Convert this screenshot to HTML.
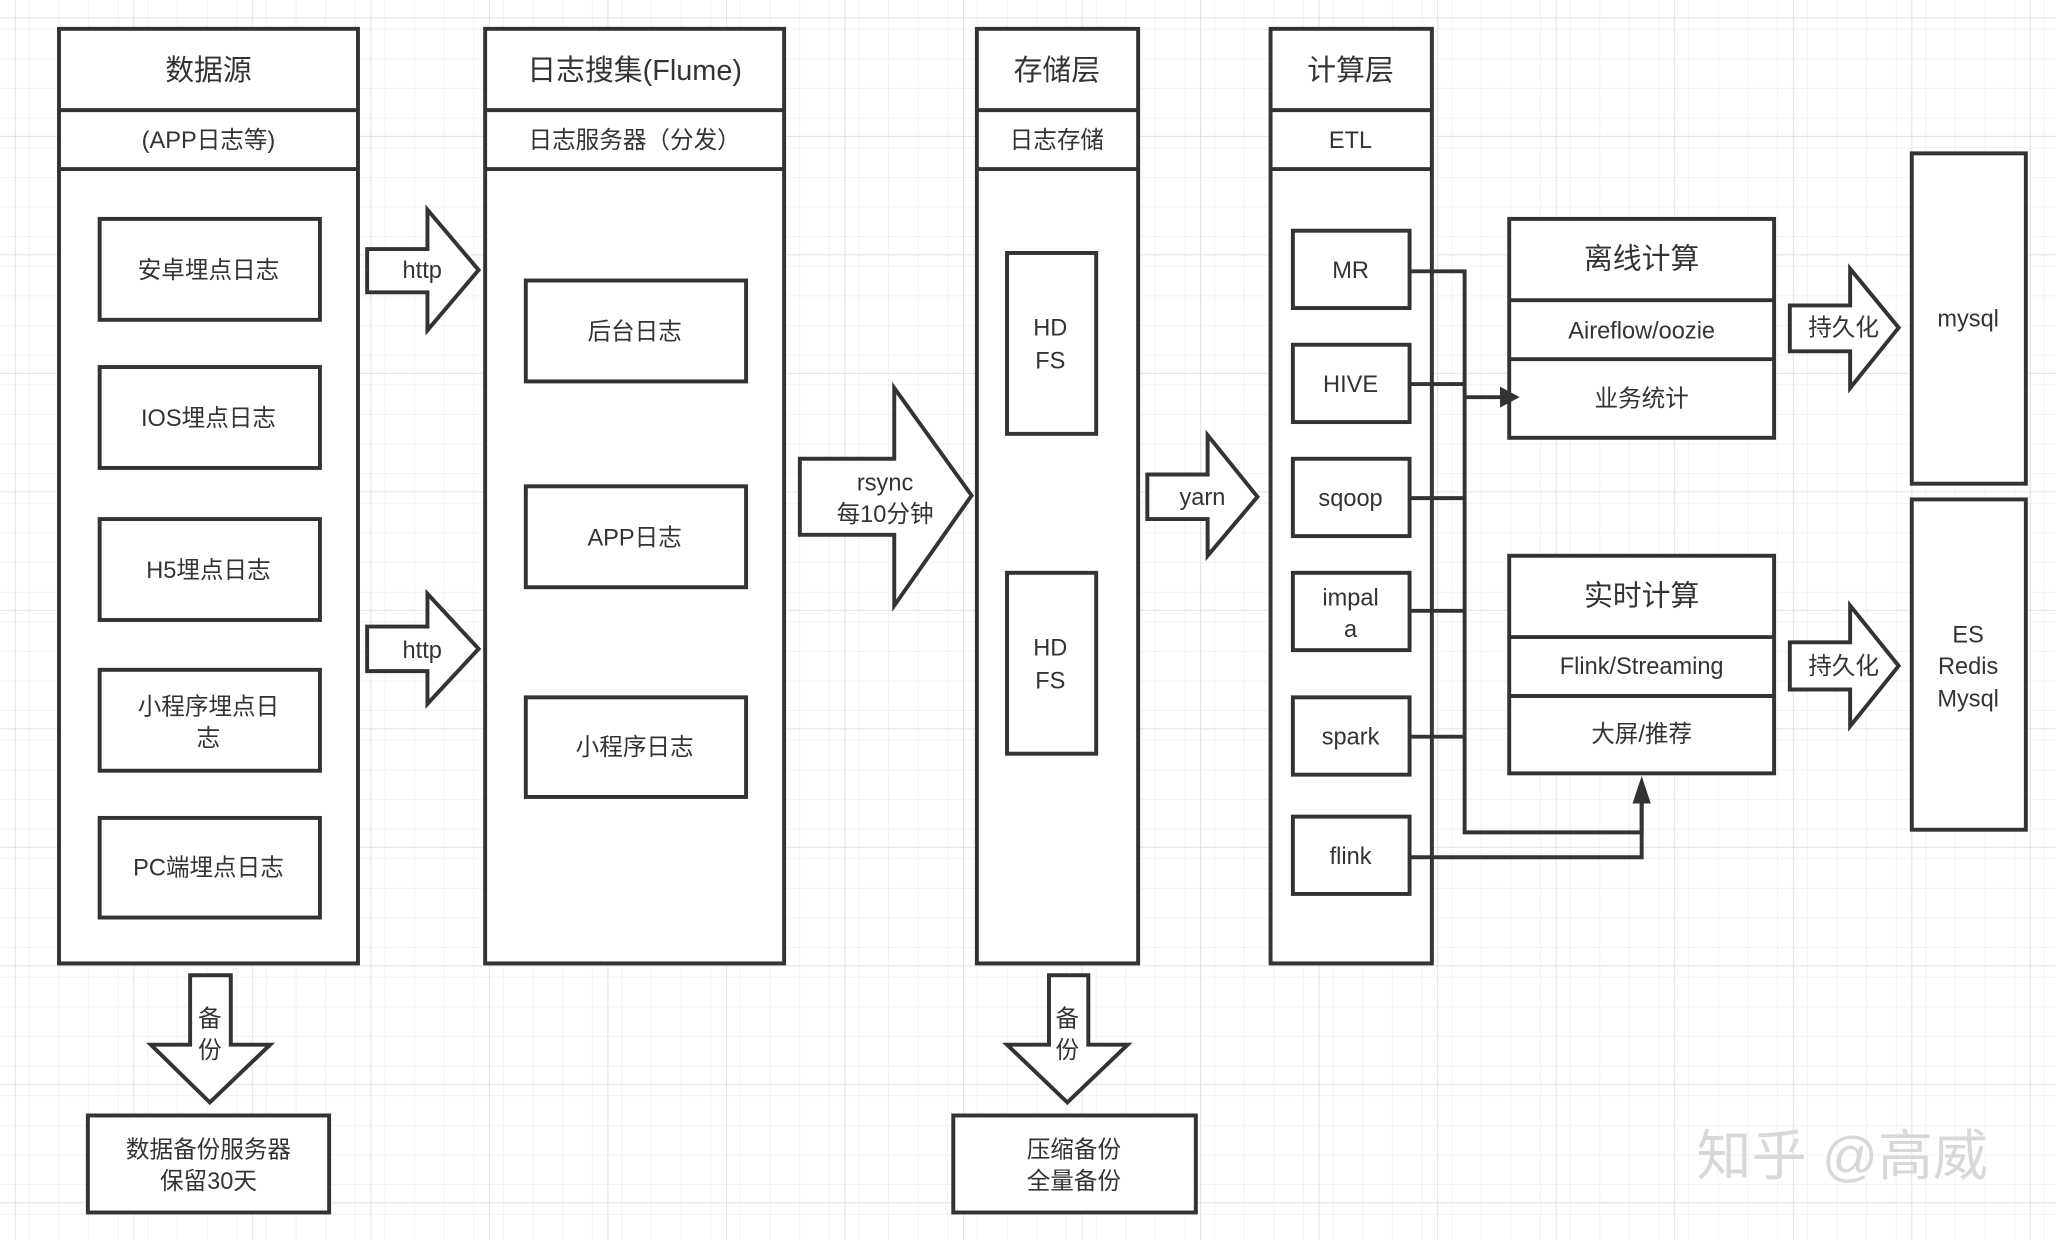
<!DOCTYPE html>
<html><head><meta charset="utf-8"><style>
html,body{margin:0;padding:0;background:#fff;}
svg{display:block;}
text{font-family:"Liberation Sans","Noto Sans CJK SC",sans-serif;fill:#333;text-anchor:middle;dominant-baseline:central;}
</style></head><body>
<svg width="2056" height="1240" viewBox="0 0 1568 946" preserveAspectRatio="none" xmlns="http://www.w3.org/2000/svg">
<defs>
<pattern id="g" width="22.6" height="22.6" patternUnits="userSpaceOnUse"><path d="M22.6 0V22.6M0 22.6H22.6" stroke="#ececec" stroke-width="1" fill="none"/></pattern>
<pattern id="G" width="90.4" height="90.4" patternUnits="userSpaceOnUse" x="12" y="14"><path d="M90.4 0V90.4M0 90.4H90.4" stroke="#e2e2e2" stroke-width="1.5" fill="none"/></pattern>
</defs>
<rect width="1568" height="946" fill="#fff"/>
<rect width="1568" height="946" fill="url(#g)"/>
<rect width="1568" height="946" fill="url(#G)"/>
<g stroke="#333" stroke-width="3" fill="#fff">
<!-- col1 -->
<rect x="45" y="22" width="228" height="713"/><line x1="45" y1="84" x2="273" y2="84"/><line x1="45" y1="129" x2="273" y2="129"/>
<rect x="76" y="167" width="168" height="77"/><rect x="76" y="280" width="168" height="77"/><rect x="76" y="396" width="168" height="77"/><rect x="76" y="511" width="168" height="77"/><rect x="76" y="624" width="168" height="76"/>
<!-- col2 -->
<rect x="370" y="22" width="228" height="713"/><line x1="370" y1="84" x2="598" y2="84"/><line x1="370" y1="129" x2="598" y2="129"/>
<rect x="401" y="214" width="168" height="77"/><rect x="401" y="371" width="168" height="77"/><rect x="401" y="532" width="168" height="76"/>
<!-- col3 -->
<rect x="745" y="22" width="123" height="713"/><line x1="745" y1="84" x2="868" y2="84"/><line x1="745" y1="129" x2="868" y2="129"/>
<rect x="768" y="193" width="68" height="138"/><rect x="768" y="437" width="68" height="138"/>
<!-- col4 -->
<rect x="969" y="22" width="123" height="713"/><line x1="969" y1="84" x2="1092" y2="84"/><line x1="969" y1="129" x2="1092" y2="129"/>
<rect x="986" y="176" width="89" height="59"/><rect x="986" y="263" width="89" height="59"/><rect x="986" y="350" width="89" height="59"/><rect x="986" y="437" width="89" height="59"/><rect x="986" y="532" width="89" height="59"/><rect x="986" y="623" width="89" height="59"/>
<!-- offline / realtime -->
<rect x="1151" y="167" width="202" height="167"/><line x1="1151" y1="229" x2="1353" y2="229"/><line x1="1151" y1="274" x2="1353" y2="274"/>
<rect x="1151" y="424" width="202" height="166"/><line x1="1151" y1="486" x2="1353" y2="486"/><line x1="1151" y1="531" x2="1353" y2="531"/>
<rect x="1458" y="117" width="87" height="252"/><rect x="1458" y="381" width="87" height="252"/>
<!-- bottom boxes -->
<rect x="67" y="851" width="184" height="74"/><rect x="727" y="851" width="185" height="74"/>
<!-- block arrows -->
<polygon points="280,190 326,190 326,160 365,206 326,252 326,223 280,223"/>
<polygon points="280,478 326,478 326,453 365,495 326,537 326,512 280,512"/>
<polygon points="610,350 682,350 682,296 741,378 682,462 682,408 610,408"/>
<polygon points="875,362 921,362 921,332 959,379 921,424 921,396 875,396"/>
<polygon points="1365,233 1411,233 1411,205 1448,250 1411,296 1411,268 1365,268"/>
<polygon points="1365,490 1411,490 1411,462 1448,508 1411,554 1411,526 1365,526"/>
<polygon points="145,744 176,744 176,797 206,797 160,841 115,797 145,797"/>
<polygon points="800,744 830,744 830,797 860,797 814,841 768,797 800,797"/>
</g>
<!-- connectors -->
<g stroke="#333" stroke-width="3" fill="none">
<polyline points="1075,207 1117,207 1117,635 1252,635 1252,605"/>
<line x1="1075" y1="293" x2="1117" y2="293"/><line x1="1075" y1="380" x2="1117" y2="380"/><line x1="1075" y1="466" x2="1117" y2="466"/><line x1="1075" y1="562" x2="1117" y2="562"/>
<polyline points="1075,654 1252,654 1252,605"/>
<line x1="1117" y1="303" x2="1145" y2="303"/>
</g>
<polygon points="1144,295 1159,303 1144,311" fill="#333"/>
<polygon points="1245,613 1252,592 1259,613" fill="#333"/>
<!-- text -->
<g font-size="22">
<text x="159" y="54">数据源</text><text x="484" y="54">日志搜集(Flume)</text><text x="806" y="54">存储层</text><text x="1030" y="54">计算层</text>
<text x="1252" y="198">离线计算</text><text x="1252" y="455">实时计算</text>
</g>
<g font-size="18">
<text x="159" y="107">(APP日志等)</text><text x="484" y="107">日志服务器（分发）</text><text x="806" y="107">日志存储</text><text x="1030" y="107">ETL</text>
<text x="159" y="206">安卓埋点日志</text><text x="159" y="319">IOS埋点日志</text><text x="159" y="435">H5埋点日志</text>
<text x="159" y="539">小程序埋点日</text><text x="159" y="563">志</text><text x="159" y="662">PC端埋点日志</text>
<text x="484" y="253">后台日志</text><text x="484" y="410">APP日志</text><text x="484" y="570">小程序日志</text>
<text x="801" y="250">HD</text><text x="801" y="275">FS</text><text x="801" y="494">HD</text><text x="801" y="519">FS</text>
<text x="1030" y="206">MR</text><text x="1030" y="293">HIVE</text><text x="1030" y="380">sqoop</text><text x="1030" y="456">impal</text><text x="1030" y="480">a</text><text x="1030" y="562">spark</text><text x="1030" y="653">flink</text>
<text x="1252" y="252">Aireflow/oozie</text><text x="1252" y="304">业务统计</text>
<text x="1252" y="508">Flink/Streaming</text><text x="1252" y="560">大屏/推荐</text>
<text x="1501" y="243">mysql</text><text x="1501" y="484">ES</text><text x="1501" y="508">Redis</text><text x="1501" y="533">Mysql</text>
<text x="322" y="206">http</text><text x="322" y="496">http</text>
<text x="675" y="368">rsync</text><text x="675" y="392">每10分钟</text>
<text x="917" y="379">yarn</text>
<text x="1406" y="250">持久化</text><text x="1406" y="508">持久化</text>
<text x="160" y="777">备</text><text x="160" y="801">份</text><text x="814" y="777">备</text><text x="814" y="801">份</text>
<text x="159" y="877">数据备份服务器</text><text x="159" y="901">保留30天</text>
<text x="819" y="877">压缩备份</text><text x="819" y="901">全量备份</text>
</g>
<text x="1405" y="882" font-size="42" style="fill:#d8d8d8">知乎 @高威</text>
</svg>
</body></html>
